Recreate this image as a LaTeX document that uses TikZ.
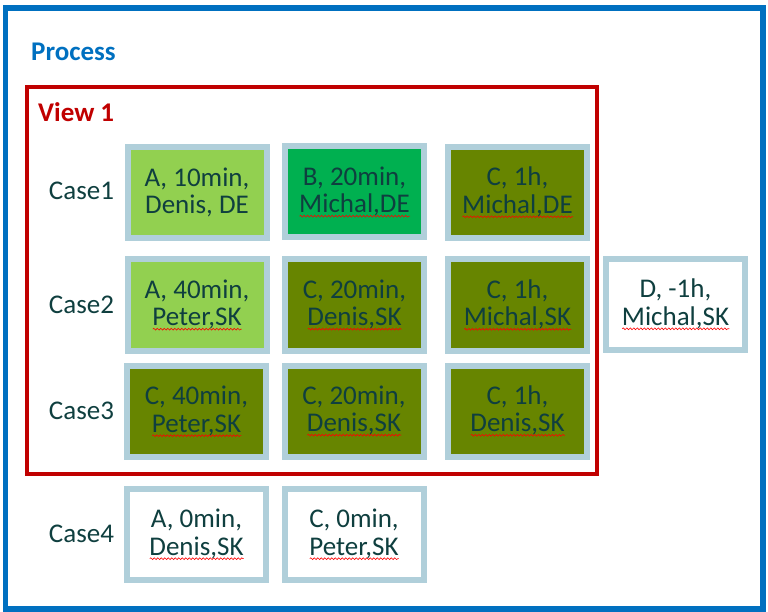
\documentclass[tikz,border=0pt]{standalone}
\usepackage{fontspec}
\setmainfont{Carlito}
\usetikzlibrary{positioning,decorations.pathmorphing}

\definecolor{procblue}{HTML}{0070C0}
\definecolor{viewred}{HTML}{C00000}
\definecolor{edgeblue}{HTML}{B0CFDA}
\definecolor{lightgreen}{HTML}{92D050}
\definecolor{midgreen}{HTML}{00B050}
\definecolor{olivegreen}{HTML}{678500}
\definecolor{ink}{HTML}{0F3F3F}

\newcommand{\bigfont}{\fontsize{27}{27.5}\selectfont}
% red spell-check wave under a word
\newcommand{\typo}[1]{\setbox0\hbox{#1}%
  \rlap{\tikz[baseline=0pt]\draw[red, line width=0.6pt, decorate,
        decoration={snake, amplitude=0.9pt, segment length=3.5pt}]
        (0pt,-3.5pt) -- (\wd0,-3.5pt);}\box0}

\begin{document}
\begin{tikzpicture}[
      x=1pt, y=-1pt,
      event/.style={rectangle, draw=edgeblue, line width=6pt, minimum width=139pt, minimum height=91pt,
                    inner sep=0pt, align=center, text=ink, font=\bigfont},
      caselabel/.style={text=ink, font=\bigfont, inner sep=0pt},
      title/.style={font=\bigfont\bfseries, inner sep=0pt, anchor=base west}
      ]
      \useasboundingbox (0,0) rectangle (768,612);

      % outer process frame and view frame
      \draw[procblue, line width=5.5pt] (5.5,8) rectangle (763,609);
      \node[title, text=procblue] (process) at (31,61) {Process};
      \draw[viewred, line width=4pt] (27,87) rectangle (597,474);
      \node[title, text=viewred] (view) at (38,122) {View 1};

      % case labels
      \node[caselabel] (case1) at (81.5,191) {Case1};
      \node[caselabel] (case2) at (81.5,305) {Case2};
      \node[caselabel] (case3) at (81.5,411) {Case3};
      \node[caselabel] (case4) at (81.5,534) {Case4};

      % Case1
      \node[event, fill=lightgreen] (c1a) at (197,192.5) {A, 10min,\\Denis, DE};
      \node[event, fill=midgreen] (c1b) at (354.5,192) {B, 20min,\\\typo{Michal,DE}};
      \node[event, fill=olivegreen] (c1c) at (517.5,192.5) {C, 1h,\\\typo{Michal,DE}};

      % Case2
      \node[event, fill=lightgreen] (c2a) at (197,305) {A, 40min,\\\typo{Peter,SK}};
      \node[event, fill=olivegreen] (c2b) at (354.5,305) {C, 20min,\\\typo{Denis,SK}};
      \node[event, fill=olivegreen] (c2c) at (517.5,305) {C, 1h,\\\typo{Michal,SK}};
      \node[event, fill=white] (c2d) at (675.5,304.5) {D, -1h,\\\typo{Michal,SK}};

      % Case3
      \node[event, fill=olivegreen] (c3a) at (196.5,411.5) {C, 40min,\\\typo{Peter,SK}};
      \node[event, fill=olivegreen] (c3b) at (354,411) {C, 20min,\\\typo{Denis,SK}};
      \node[event, fill=olivegreen] (c3c) at (517.5,411) {C, 1h,\\\typo{Denis,SK}};

      % Case4
      \node[event, fill=white] (c4a) at (196.5,534.5) {A, 0min,\\\typo{Denis,SK}};
      \node[event, fill=white] (c4b) at (354,534.5) {C, 0min,\\\typo{Peter,SK}};
\end{tikzpicture}
\end{document}
